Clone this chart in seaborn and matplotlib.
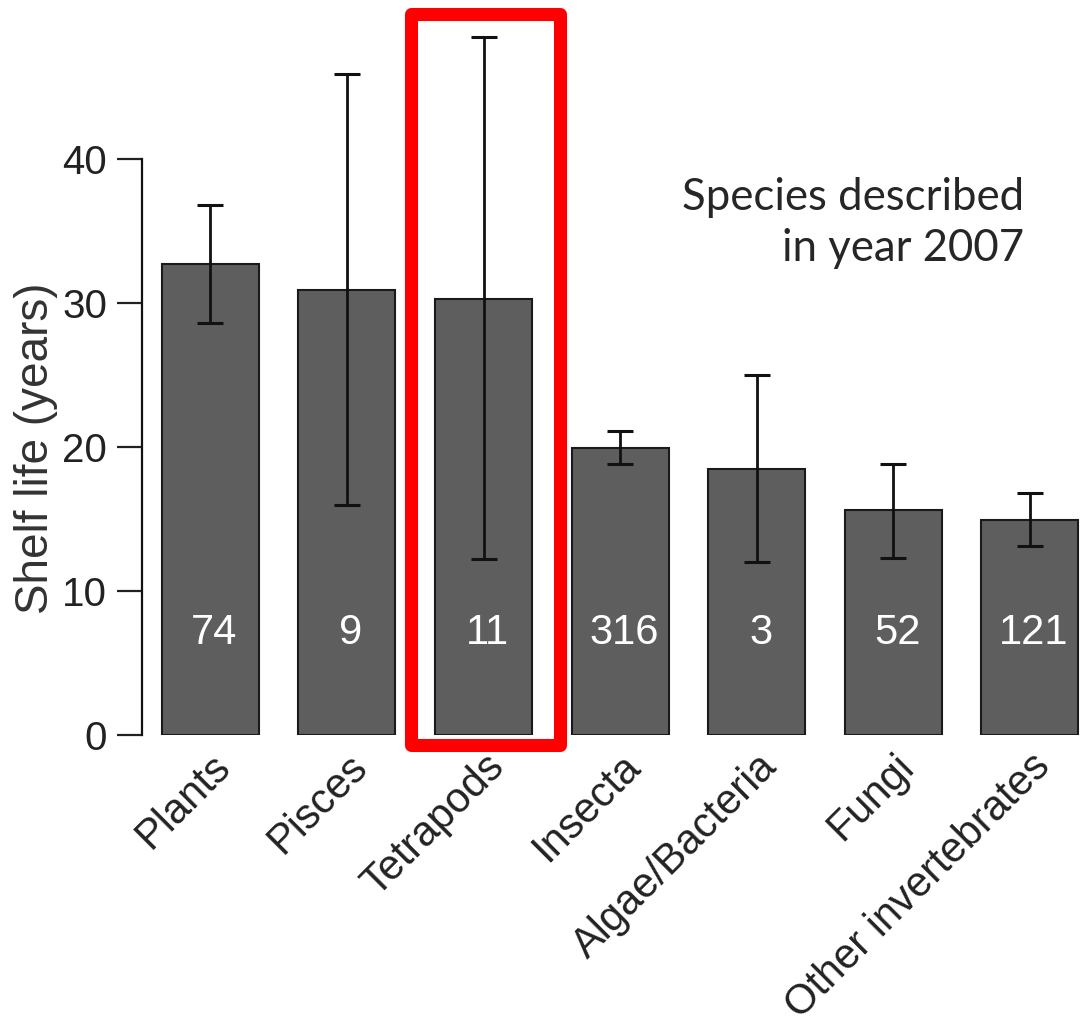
import matplotlib
matplotlib.use("Agg")
import matplotlib.pyplot as plt
import seaborn as sns
import pandas as pd
from matplotlib.patches import Rectangle

categories = ["Plants", "Pisces", "Tetrapods", "Insecta",
              "Algae/Bacteria", "Fungi", "Other invertebrates"]
shelf_life = [32.7, 30.9, 30.3, 19.9, 18.5, 15.6, 14.9]
ci_low = [28.6, 16.0, 12.2, 18.8, 12.0, 12.3, 13.1]
ci_high = [36.8, 45.9, 48.5, 21.1, 25.0, 18.8, 16.8]
n_species = [74, 9, 11, 316, 3, 52, 121]
highlight = "Tetrapods"

df = pd.DataFrame({"group": categories, "shelf": shelf_life,
                   "lo": ci_low, "hi": ci_high, "n": n_species})

sns.set_style("ticks")
plt.rcParams["font.family"] = ["Liberation Sans", "DejaVu Sans"]

fig = plt.figure(figsize=(10.81, 10.28), dpi=100)
ax = fig.add_axes([142 / 1081, 293 / 1028, 939 / 1081, 735 / 1028])

sns.barplot(data=df, x="group", y="shelf", color="#5e5e5e", saturation=1,
            edgecolor="#1a1a1a", linewidth=1.5, width=0.71, errorbar=None, ax=ax)

pos = list(range(len(df)))
ax.errorbar(pos, df["shelf"], yerr=[df["shelf"] - df["lo"], df["hi"] - df["shelf"]],
            fmt="none", ecolor="#111111", elinewidth=2, capsize=9.5, capthick=2.2)

for p, n in zip(pos, df["n"]):
    ax.text(p + 0.03, 7.1, str(n), color="white", ha="center", va="center", fontsize=30)

ax.set_xlim(-0.5, 6.374)
ax.set_ylim(0, 51.04)
ax.set_yticks([0, 10, 20, 30, 40])
sns.despine(ax=ax, bottom=True)
ax.spines["left"].set_bounds(0, 40)
ax.spines["left"].set_linewidth(1.6)
ax.spines["left"].set_color("#111111")
ax.tick_params(axis="y", length=18, width=1.6, pad=7, labelsize=29, colors="#222222")
ax.tick_params(axis="x", length=0, pad=8, labelsize=30, colors="#222222")
ax.set_xticks(pos)
ax.set_xticklabels(categories, rotation=45, ha="right", va="top",
                   rotation_mode="anchor")
ax.set_xlabel("")
ax.set_ylabel("Shelf life (years)", fontsize=33, color="#333333")
ax.yaxis.set_label_coords(-0.0895, 0.39)

# red highlight box around one group
i = categories.index(highlight)
ax.add_patch(Rectangle((i - 0.53, -0.66), 1.087, 50.76, fill=False,
                       edgecolor="#ff0000", linewidth=9.4, joinstyle="round",
                       clip_on=False, zorder=5))

fig.text(1024 / 1081, 1 - 223 / 1028, "Species described\nin year 2007",
         ha="right", va="center", fontsize=31.5, family=["Lato", "DejaVu Sans"],
         multialignment="right", linespacing=1.3)

fig.savefig("out.png", dpi=100)
